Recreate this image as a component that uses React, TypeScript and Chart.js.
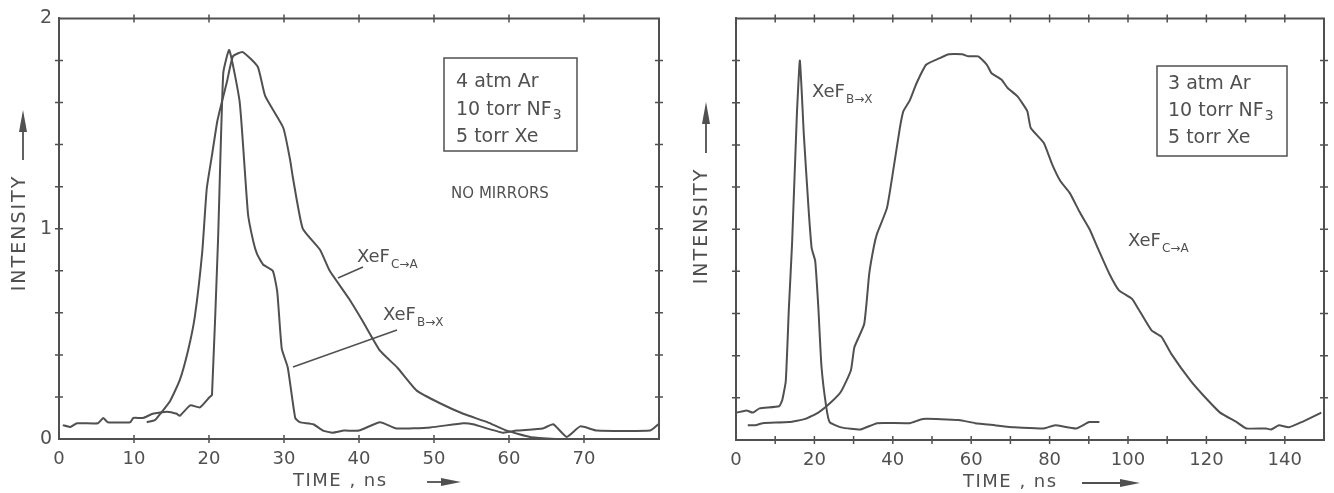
import React, { useEffect, useRef } from "react";
import { Chart, registerables } from "chart.js";
Chart.register(...registerables);

// ---------- data ----------
const leftCaTime = [11.7, 12.8, 13.5, 14.8, 16.1, 17.2, 18.1, 19.1, 19.7, 20.4, 21.1, 21.7, 22.4, 23.2, 24.5, 26.5, 27.5, 29.9, 30.8, 31.2, 32.5, 34.8, 36.1, 38.8, 40.5, 42.8, 45.1, 47.7, 50.8, 53.9, 57.1, 59.7, 62.8, 66.4];
const leftCaIntensity = [0.08, 0.09, 0.12, 0.18, 0.28, 0.42, 0.58, 0.89, 1.19, 1.35, 1.51, 1.6, 1.7, 1.82, 1.84, 1.77, 1.63, 1.48, 1.33, 1.24, 1.0, 0.9, 0.8, 0.66, 0.56, 0.42, 0.34, 0.23, 0.17, 0.12, 0.08, 0.04, 0.01, 0.0];

const leftBxTime = [0.5, 1.5, 2.4, 5.2, 5.9, 6.5, 9.5, 9.9, 11.2, 12.5, 14.4, 15.7, 16.1, 17.5, 18.8, 20.1, 20.4, 21.2, 21.9, 22.7, 24.1, 25.2, 25.9, 26.4, 27.2, 28.5, 29.1, 29.7, 30.5, 31.5, 32.1, 33.9, 35.2, 36.5, 38.0, 40.0, 42.8, 45.0, 49.5, 53.9, 55.2, 59.2, 61.0, 64.5, 65.9, 67.7, 69.5, 71.7, 78.8, 79.9];
const leftBxIntensity = [0.066, 0.057, 0.075, 0.075, 0.1, 0.08, 0.08, 0.1, 0.1, 0.12, 0.13, 0.12, 0.11, 0.16, 0.15, 0.2, 0.21, 0.94, 1.74, 1.85, 1.6, 1.07, 0.94, 0.88, 0.83, 0.8, 0.7, 0.43, 0.34, 0.1, 0.08, 0.07, 0.04, 0.03, 0.04, 0.04, 0.08, 0.05, 0.055, 0.075, 0.07, 0.03, 0.04, 0.05, 0.07, 0.01, 0.06, 0.04, 0.04, 0.07];

const rightBxTime = [0.2, 2.7, 4.3, 6.0, 11.0, 11.8, 12.7, 13.5, 14.3, 15.5, 16.3, 17.3, 18.5, 19.3, 20.2, 21.0, 21.8, 23.0, 23.9, 26.8, 31.8, 36.0, 44.3, 47.7, 56.8, 61.0, 66.0, 71.0, 78.5, 81.4, 86.8, 90.1, 92.7];
const rightBxIntensity = [0.13, 0.14, 0.13, 0.15, 0.16, 0.19, 0.28, 0.63, 0.93, 1.53, 1.8, 1.45, 1.1, 0.91, 0.85, 0.63, 0.35, 0.16, 0.085, 0.06, 0.05, 0.08, 0.08, 0.1, 0.095, 0.08, 0.07, 0.06, 0.055, 0.07, 0.055, 0.085, 0.085];

const rightCaTime = [3.0, 5.0, 6.8, 13.5, 17.7, 21.0, 24.3, 26.8, 29.3, 30.2, 32.7, 34.0, 35.2, 36.0, 38.5, 40.2, 41.8, 42.7, 44.3, 46.0, 48.5, 51.8, 54.3, 57.7, 59.3, 61.8, 64.0, 65.2, 67.7, 69.3, 71.8, 74.3, 75.2, 78.5, 80.6, 82.7, 85.2, 87.7, 90.2, 92.3, 95.2, 97.7, 101.0, 102.7, 106.0, 108.5, 111.0, 116.0, 119.3, 123.5, 127.7, 130.2, 135.2, 136.5, 138.5, 141.0, 144.3, 149.3];
const rightCaIntensity = [0.07, 0.07, 0.08, 0.085, 0.1, 0.13, 0.18, 0.23, 0.33, 0.44, 0.55, 0.79, 0.92, 0.98, 1.1, 1.29, 1.48, 1.56, 1.61, 1.69, 1.78, 1.81, 1.83, 1.83, 1.82, 1.82, 1.78, 1.74, 1.71, 1.67, 1.63, 1.56, 1.48, 1.41, 1.31, 1.23, 1.17, 1.08, 1.0, 0.91, 0.79, 0.71, 0.67, 0.62, 0.52, 0.49, 0.41, 0.28, 0.21, 0.13, 0.085, 0.055, 0.055, 0.05, 0.07, 0.06, 0.085, 0.13];

const leftTimeMax = 80;
const rightTimeMax = 150;
const intensityMax = 2;
const leftTimeLabels = [0, 10, 20, 30, 40, 50, 60, 70];
const rightTimeLabels = [0, 20, 40, 60, 80, 100, 120, 140];
const intensityLabels = [0, 1, 2];

const leftGas = ["4 atm Ar", "10 torr NF", "5 torr Xe"];
const rightGas = ["3 atm Ar", "10 torr NF", "5 torr Xe"];

const INK = "#505050";
const FONT = "'DejaVu Sans', sans-serif";

function pts(t: number[], v: number[]) {
  return t.map((x, i) => ({ x, y: v[i] }));
}

function arrow(ctx: CanvasRenderingContext2D, x1: number, y1: number, x2: number, y2: number, head: number, hw: number) {
  const ang = Math.atan2(y2 - y1, x2 - x1);
  const bx = x2 - head * Math.cos(ang);
  const by = y2 - head * Math.sin(ang);
  ctx.beginPath();
  ctx.moveTo(x1, y1);
  ctx.lineTo(bx, by);
  ctx.stroke();
  ctx.beginPath();
  ctx.moveTo(x2, y2);
  ctx.lineTo(bx + hw * Math.sin(ang), by - hw * Math.cos(ang));
  ctx.lineTo(bx - hw * Math.sin(ang), by + hw * Math.cos(ang));
  ctx.closePath();
  ctx.fill();
}

function subText(ctx: CanvasRenderingContext2D, x: number, y: number, main: string, sub: string, mainSize: number, subSize: number, dy: number) {
  ctx.font = `${mainSize}px ${FONT}`;
  ctx.textAlign = "left";
  ctx.textBaseline = "middle";
  ctx.fillText(main, x, y);
  const w = ctx.measureText(main).width;
  ctx.font = `${subSize}px ${FONT}`;
  ctx.fillText(sub, x + w + 1, y + dy);
}

type Ann = {
  intensity: { x: number; y: number; ax: number; ay1: number; ay2: number };
  time: { x: number; y: number; ax1: number; ax2: number; ay: number };
  box: { x1: number; y1: number; x2: number; y2: number; tx: number; ty: number[]; lines: string[] };
  labels: { x: number; y: number; main: string; sub: string }[];
  leaders: number[][];
  extra?: { x: number; y: number; text: string; size: number }[];
};

function framePlugin(ann: Ann) {
  return {
    id: "frameAnn",
    afterDraw(chart: any) {
      const { ctx, chartArea: a, scales } = chart;
      const xs = scales.x;
      const ys = scales.y;
      ctx.save();
      ctx.strokeStyle = INK;
      ctx.fillStyle = INK;
      ctx.lineWidth = 2;
      ctx.beginPath();
      ctx.moveTo(a.left, a.top);
      ctx.lineTo(a.right, a.top);
      ctx.lineTo(a.right, a.bottom);
      ctx.stroke();
      ctx.lineWidth = 1.5;
      const L = 4;
      xs.ticks.forEach((t: any) => {
        const p = xs.getPixelForValue(t.value);
        if (p <= a.left + 1 || p >= a.right - 1) return;
        ctx.beginPath();
        ctx.moveTo(p, a.bottom - L);
        ctx.lineTo(p, a.bottom + L);
        ctx.moveTo(p, a.top - L);
        ctx.lineTo(p, a.top + L);
        ctx.stroke();
      });
      ys.ticks.forEach((t: any) => {
        const p = ys.getPixelForValue(t.value);
        if (p <= a.top + 1 || p >= a.bottom - 1) return;
        ctx.beginPath();
        ctx.moveTo(a.left - L, p);
        ctx.lineTo(a.left + L, p);
        ctx.moveTo(a.right - L, p);
        ctx.lineTo(a.right + L, p);
        ctx.stroke();
      });

      // INTENSITY axis label
      ctx.save();
      ctx.translate(ann.intensity.x, ann.intensity.y);
      ctx.rotate(-Math.PI / 2);
      ctx.font = `19px ${FONT}`;
      (ctx as any).letterSpacing = "2px";
      ctx.textAlign = "center";
      ctx.textBaseline = "middle";
      ctx.fillText("INTENSITY", 0, 0);
      ctx.restore();
      ctx.lineWidth = 1.8;
      arrow(ctx, ann.intensity.ax, ann.intensity.ay1, ann.intensity.ax, ann.intensity.ay2, 22, 4);

      // TIME axis label
      ctx.save();
      ctx.font = `18px ${FONT}`;
      (ctx as any).letterSpacing = "1.5px";
      ctx.textAlign = "left";
      ctx.textBaseline = "middle";
      ctx.fillText("TIME , ns", ann.time.x, ann.time.y);
      ctx.restore();
      arrow(ctx, ann.time.ax1, ann.time.ay, ann.time.ax2, ann.time.ay, 20, 4);

      // gas box
      const b = ann.box;
      ctx.lineWidth = 1.5;
      ctx.strokeRect(b.x1, b.y1, b.x2 - b.x1, b.y2 - b.y1);
      b.lines.forEach((s, i) => {
        if (s.endsWith("NF")) {
          subText(ctx, b.tx, b.ty[i], s, "3", 19, 14, 5);
        } else {
          ctx.font = `19px ${FONT}`;
          ctx.textAlign = "left";
          ctx.textBaseline = "middle";
          ctx.fillText(s, b.tx, b.ty[i]);
        }
      });

      // curve labels
      ann.labels.forEach((l) => subText(ctx, l.x, l.y, l.main, l.sub, 18, 12, 8));
      ctx.lineWidth = 1.5;
      ann.leaders.forEach((s) => {
        ctx.beginPath();
        ctx.moveTo(s[0], s[1]);
        ctx.lineTo(s[2], s[3]);
        ctx.stroke();
      });
      (ann.extra || []).forEach((e) => {
        ctx.font = `${e.size}px ${FONT}`;
        ctx.textAlign = "center";
        ctx.textBaseline = "middle";
        ctx.fillText(e.text, e.x, e.y);
      });
      ctx.restore();
    },
  };
}

function makeConfig(opts: {
  datasets: { t: number[]; v: number[] }[];
  xMax: number;
  xLabels: number[];
  yLabels: number[] | null;
  yWidth: number;
  xHeight: number;
  padding: { left: number; top: number; right: number; bottom: number };
  ann: Ann;
}): any {
  return {
    type: "line",
    data: {
      datasets: opts.datasets.map((d) => ({
        data: pts(d.t, d.v),
        borderColor: INK,
        borderWidth: 2,
        pointRadius: 0,
        tension: 0.15,
        fill: false,
      })),
    },
    options: {
      animation: false,
      responsive: false,
      parsing: true,
      layout: { padding: opts.padding },
      plugins: { legend: { display: false }, tooltip: { enabled: false } },
      scales: {
        x: {
          type: "linear",
          min: 0,
          max: opts.xMax,
          afterFit: (s: any) => {
            s.height = opts.xHeight;
          },
          grid: { display: false, drawTicks: false },
          border: { display: true, color: INK, width: 2 },
          ticks: {
            stepSize: 10,
            autoSkip: false,
            maxRotation: 0,
            padding: 10,
            color: INK,
            font: { family: FONT, size: 18 },
            callback: (v: number) => (opts.xLabels.includes(Math.round(v)) ? String(Math.round(v)) : ""),
          },
        },
        y: {
          type: "linear",
          min: 0,
          max: intensityMax,
          afterFit: (s: any) => {
            s.width = opts.yWidth;
          },
          grid: { display: false, drawTicks: false },
          border: { display: true, color: INK, width: 2 },
          ticks: {
            stepSize: 0.2,
            autoSkip: false,
            padding: 7,
            color: INK,
            font: { family: FONT, size: 19 },
            callback: (v: number) => {
              if (!opts.yLabels) return "";
              const r = Math.round(v);
              return Math.abs(v - r) < 1e-6 && opts.yLabels.includes(r) ? String(r) : "";
            },
          },
        },
      },
    },
    plugins: [framePlugin(opts.ann)],
  };
}

export default function App() {
  const leftRef = useRef<HTMLCanvasElement | null>(null);
  const rightRef = useRef<HTMLCanvasElement | null>(null);

  useEffect(() => {
    const RX = 680; // left offset of right canvas
    const leftChart = new Chart(
      leftRef.current as HTMLCanvasElement,
      makeConfig({
        datasets: [
          { t: leftCaTime, v: leftCaIntensity },
          { t: leftBxTime, v: leftBxIntensity },
        ],
        xMax: leftTimeMax,
        xLabels: leftTimeLabels,
        yLabels: intensityLabels,
        yWidth: 59,
        xHeight: 493 - 439,
        padding: { left: 0, top: 16, right: 680 - 659, bottom: 0 },
        ann: {
          intensity: { x: 20, y: 233, ax: 23, ay1: 160, ay2: 110 },
          time: { x: 293, y: 481, ax1: 427, ax2: 461, ay: 482 },
          box: { x1: 444, y1: 58, x2: 577, y2: 151, tx: 456, ty: [82, 110, 137], lines: leftGas },
          labels: [
            { x: 357, y: 257, main: "XeF", sub: "C\u2192A" },
            { x: 383, y: 315, main: "XeF", sub: "B\u2192X" },
          ],
          leaders: [
            [338, 278, 363, 267],
            [293, 367, 397, 330],
          ],
          extra: [{ x: 500, y: 194, text: "NO MIRRORS", size: 15 }],
        },
      })
    );
    const rightChart = new Chart(
      rightRef.current as HTMLCanvasElement,
      makeConfig({
        datasets: [
          { t: rightCaTime, v: rightCaIntensity },
          { t: rightBxTime, v: rightBxIntensity },
        ],
        xMax: rightTimeMax,
        xLabels: rightTimeLabels.filter((v) => v < rightTimeMax),
        yLabels: null,
        yWidth: 736 - RX,
        xHeight: 493 - 440,
        padding: { left: 0, top: 18, right: 1334 - 1332, bottom: 0 },
        ann: {
          intensity: { x: 702 - RX, y: 226, ax: 706 - RX, ay1: 153, ay2: 102 },
          time: { x: 963 - RX, y: 482, ax1: 1082 - RX, ax2: 1140 - RX, ay: 483 },
          box: { x1: 1157 - RX, y1: 66, x2: 1287 - RX, y2: 156, tx: 1168 - RX, ty: [84, 111, 138], lines: rightGas },
          labels: [
            { x: 812 - RX, y: 92, main: "XeF", sub: "B\u2192X" },
            { x: 1128 - RX, y: 241, main: "XeF", sub: "C\u2192A" },
          ],
          leaders: [],
        },
      })
    );
    return () => {
      leftChart.destroy();
      rightChart.destroy();
    };
  }, []);

  return (
    <div style={{ position: "fixed", left: 0, top: 0, width: 1334, height: 493, background: "#fff", overflow: "hidden" }}>
      <canvas ref={leftRef} width={680} height={493} style={{ position: "absolute", left: 0, top: 0 }} />
      <canvas ref={rightRef} width={654} height={493} style={{ position: "absolute", left: 680, top: 0 }} />
    </div>
  );
}
